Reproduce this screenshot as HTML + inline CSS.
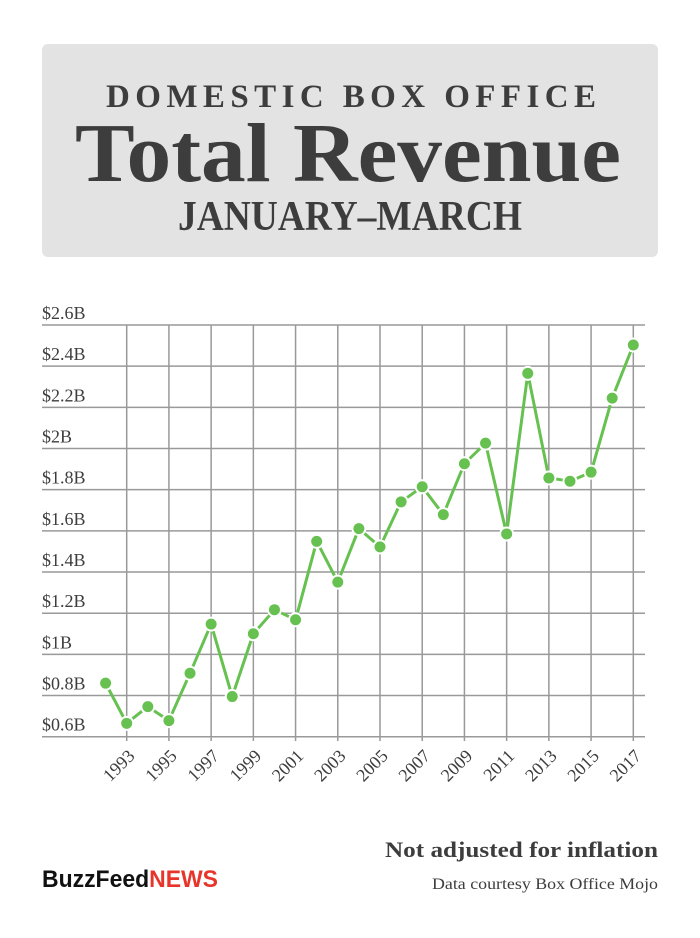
<!DOCTYPE html>
<html><head><meta charset="utf-8"><style>
html,body{margin:0;padding:0;background:#fff;}
svg{display:block;}
text{font-family:"Liberation Serif",serif;}
</style></head><body>
<svg id="chart" width="700" height="938" viewBox="0 0 700 938" xmlns="http://www.w3.org/2000/svg">
<rect x="42" y="44" width="616" height="213" rx="6" fill="#e3e3e3"/>
<text x="351" y="107" text-anchor="middle" font-size="33" font-weight="bold" fill="#3d3d3d" textLength="490" lengthAdjust="spacing">DOMESTIC BOX OFFICE</text>
<text x="348" y="181" text-anchor="middle" font-size="84" font-weight="bold" fill="#3d3d3d" textLength="546" lengthAdjust="spacingAndGlyphs">Total Revenue</text>
<text x="350" y="230" text-anchor="middle" font-size="42" font-weight="bold" fill="#3d3d3d" textLength="344" lengthAdjust="spacingAndGlyphs">JANUARY–MARCH</text>
<g id="grid"></g>
<g id="series"></g>
<text x="658" y="857" text-anchor="end" font-size="22" font-weight="bold" fill="#3d3d3d" textLength="273" lengthAdjust="spacingAndGlyphs">Not adjusted for inflation</text>
<text x="658" y="889" text-anchor="end" font-size="16" fill="#3d3d3d" textLength="226" lengthAdjust="spacingAndGlyphs">Data courtesy Box Office Mojo</text>
<text x="42" y="887" font-family="Liberation Sans,sans-serif" font-size="24" font-weight="bold" textLength="176" lengthAdjust="spacingAndGlyphs"><tspan fill="#111" style="font-family:'Liberation Sans',sans-serif">BuzzFeed</tspan><tspan fill="#e8352b" style="font-family:'Liberation Sans',sans-serif">NEWS</tspan></text>
</svg>
<script>
const years = [1992,1993,1994,1995,1996,1997,1998,1999,2000,2001,2002,2003,2004,2005,2006,2007,2008,2009,2010,2011,2012,2013,2014,2015,2016,2017];
const revenue = [0.86,0.665,0.746,0.678,0.908,1.147,0.795,1.10,1.217,1.168,1.549,1.351,1.611,1.522,1.741,1.814,1.679,1.926,2.026,1.585,2.365,1.857,1.841,1.885,2.245,2.503];
const yTicks = [0.6,0.8,1.0,1.2,1.4,1.6,1.8,2.0,2.2,2.4,2.6];
const yTickLabels = ["$0.6B","$0.8B","$1B","$1.2B","$1.4B","$1.6B","$1.8B","$2B","$2.2B","$2.4B","$2.6B"];
const xTickYears = [1993,1995,1997,1999,2001,2003,2005,2007,2009,2011,2013,2015,2017];

const NS = "http://www.w3.org/2000/svg";
const x = yr => 126.7 + (yr - 1993) * (633.3 - 126.7) / 24;
const y = v => 736.7 - (v - 0.6) * (736.7 - 325) / 2.0;
function mk(tag, attrs, parent){ const e=document.createElementNS(NS,tag); for(const k in attrs) e.setAttribute(k,attrs[k]); parent.appendChild(e); return e; }
const grid = document.getElementById('grid');
const series = document.getElementById('series');

yTicks.forEach((t,i)=>{
  const l = mk('line',{x1:42,x2:645,y1:y(t),y2:y(t),stroke:'#999','stroke-width':1.5},grid);
  
  
  const tx = mk('text',{x:42,y:y(t)-6,'font-size':18,fill:'#3d3d3d'},grid);
  tx.textContent = yTickLabels[i];
  
  
});
xTickYears.forEach(yr=>{
  const l = mk('line',{x1:x(yr),x2:x(yr),y1:325,y2:741,stroke:'#999','stroke-width':1.5},grid);
  
  
  const tx = mk('text',{x:0,y:0,'font-size':18,fill:'#3d3d3d','text-anchor':'end',transform:`translate(${x(yr)+9},${757}) rotate(-45)`},grid);
  tx.textContent = String(yr);
  
  
});
const pts = years.map((yr,i)=>x(yr).toFixed(1)+','+y(revenue[i]).toFixed(1)).join(' ');
const line = mk('polyline',{points:pts,fill:'none',stroke:'#66c150','stroke-width':3,'stroke-linejoin':'round'},series);


years.forEach((yr,i)=>{
  const c = mk('circle',{cx:x(yr),cy:y(revenue[i]),r:6.5,fill:'#66c150',stroke:'#fff','stroke-width':2},series);
  
  
});
</script>
</body></html>
